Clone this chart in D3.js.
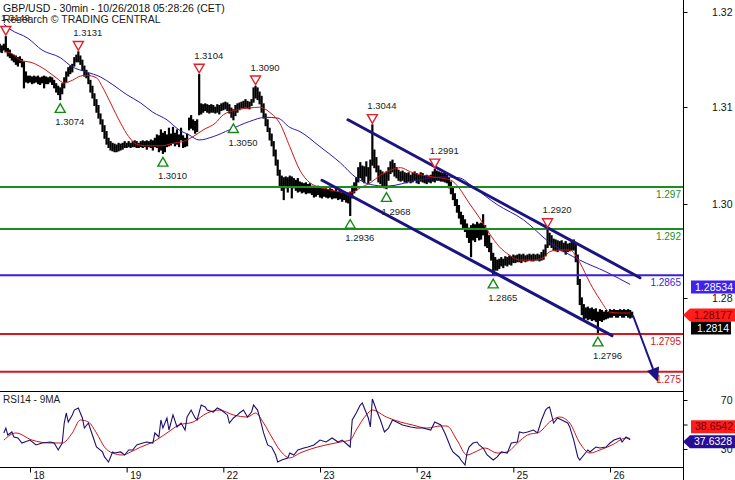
<!DOCTYPE html>
<html><head><meta charset="utf-8">
<script src="https://cdn.jsdelivr.net/npm/d3@7"></script>
<style>body{margin:0;background:#fff}svg{display:block}</style>
</head><body><svg id="c" width="735" height="480"></svg>
<script>
// ---------------- DATA ----------------
const titleText = "GBP/USD - 30min - 10/26/2018 05:28:26 (CET)";
const creditText = "Research \u00A9 TRADING CENTRAL";
const rsiTitle = "RSI14 - 9MA";

// 30-min bars, high / low (bar index 0 = 17 Oct evening)
const highs = [
1.3140,1.3138,1.3140,1.3149,1.3135,1.3133,1.3128,1.3127,1.3126,1.3124,
1.3125,1.3122,1.3119,1.3107,1.3102,1.3102,1.3101,1.3102,1.3101,1.3102,
1.3100,1.3101,1.3102,1.3101,1.3100,1.3101,1.3100,1.3097,1.3093,1.3090,
1.3088,1.3093,1.3100,1.3107,1.3112,1.3114,1.3116,1.3124,1.3127,1.3131,
1.3126,1.3121,1.3114,1.3109,1.3105,1.3097,1.3090,1.3081,1.3074,1.3067,
1.3057,1.3050,1.3043,1.3036,1.3028,1.3024,1.3022,1.3021,1.3020,1.3022,
1.3021,1.3022,1.3024,1.3022,1.3024,1.3022,1.3024,1.3025,1.3024,1.3022,
1.3024,1.3025,1.3024,1.3025,1.3024,1.3026,1.3025,1.3028,1.3032,1.3031,
1.3038,1.3034,1.3036,1.3032,1.3040,1.3033,1.3041,1.3034,1.3038,1.3032,
1.3040,1.3031,1.3028,1.3033,1.3052,1.3055,1.3050,1.3048,1.3050,1.3104,
1.3069,1.3068,1.3069,1.3068,1.3067,1.3068,1.3067,1.3065,1.3068,1.3067,
1.3069,1.3070,1.3071,1.3070,1.3068,1.3064,1.3062,1.3067,1.3069,1.3070,
1.3071,1.3072,1.3074,1.3072,1.3071,1.3074,1.3088,1.3090,1.3088,1.3083,
1.3078,1.3069,1.3057,1.3050,1.3040,1.3033,1.3024,1.3014,1.3002,1.2990,
1.2983,1.2981,1.2982,1.2981,1.2983,1.2982,1.2980,1.2978,1.2980,1.2976,
1.2975,1.2974,1.2975,1.2973,1.2974,1.2971,1.2970,1.2969,1.2971,1.2969,
1.2968,1.2970,1.2968,1.2967,1.2968,1.2967,1.2965,1.2967,1.2964,1.2965,
1.2963,1.2964,1.2963,1.2962,1.2964,1.2971,1.2975,1.2981,1.2993,1.2999,
1.2995,1.2994,1.3000,1.2993,1.3002,1.3044,1.3014,1.3005,1.2995,1.2990,
1.2988,1.2986,1.2988,1.2993,1.3000,1.3002,1.2998,1.2993,1.2990,1.2988,
1.2989,1.2987,1.2986,1.2987,1.2984,1.2986,1.2988,1.2986,1.2984,1.2987,
1.2986,1.2983,1.2984,1.2983,1.2984,1.2988,1.2991,1.2989,1.2988,1.2987,
1.2986,1.2986,1.2984,1.2981,1.2976,1.2969,1.2962,1.2955,1.2948,1.2940,
1.2936,1.2931,1.2926,1.2921,1.2924,1.2926,1.2925,1.2928,1.2926,1.2927,
1.2937,1.2924,1.2919,1.2912,1.2903,1.2891,1.2886,1.2883,1.2884,1.2886,
1.2884,1.2887,1.2886,1.2888,1.2887,1.2889,1.2888,1.2889,1.2890,1.2889,
1.2890,1.2888,1.2889,1.2890,1.2889,1.2890,1.2889,1.2890,1.2889,1.2892,
1.2895,1.2901,1.2920,1.2915,1.2912,1.2908,1.2907,1.2906,1.2905,1.2906,
1.2903,1.2905,1.2902,1.2903,1.2905,1.2907,1.2902,1.2889,1.2860,1.2838,
1.2830,1.2826,1.2827,1.2825,1.2826,1.2824,1.2825,1.2821,1.2824,1.2823,
1.2821,1.2823,1.2821,1.2824,1.2823,1.2824,1.2823,1.2823,1.2824,1.2823,
1.2824,1.2823,1.2824,1.2823,1.2821];
const lows = [
1.3131,1.3130,1.3133,1.3131,1.3126,1.3124,1.3121,1.3119,1.3116,1.3114,
1.3118,1.3113,1.3088,1.3095,1.3094,1.3095,1.3093,1.3094,1.3095,1.3093,
1.3092,1.3094,1.3088,1.3093,1.3093,1.3095,1.3092,1.3088,1.3083,1.3080,
1.3074,1.3081,1.3088,1.3095,1.3102,1.3105,1.3107,1.3114,1.3119,1.3119,
1.3116,1.3109,1.3102,1.3100,1.3093,1.3083,1.3076,1.3067,1.3059,1.3052,
1.3045,1.3036,1.3028,1.3021,1.3017,1.3014,1.3013,1.3012,1.3012,1.3013,
1.3014,1.3015,1.3017,1.3017,1.3018,1.3017,1.3018,1.3018,1.3017,1.3017,
1.3018,1.3017,1.3018,1.3015,1.3018,1.3017,1.3014,1.3018,1.3017,1.3012,
1.3014,1.3010,1.3012,1.3018,1.3019,1.3020,1.3022,1.3019,1.3021,1.3018,
1.3026,1.3017,1.3018,1.3019,1.3038,1.3040,1.3038,1.3034,1.3036,1.3056,
1.3057,1.3059,1.3061,1.3059,1.3058,1.3059,1.3059,1.3058,1.3059,1.3057,
1.3061,1.3062,1.3063,1.3061,1.3058,1.3053,1.3050,1.3055,1.3059,1.3062,
1.3064,1.3064,1.3065,1.3064,1.3063,1.3067,1.3071,1.3076,1.3074,1.3069,
1.3059,1.3052,1.3043,1.3036,1.3026,1.3019,1.3007,1.2996,1.2984,1.2971,
1.2966,1.2955,1.2969,1.2964,1.2971,1.2957,1.2969,1.2966,1.2964,1.2965,
1.2963,1.2964,1.2962,1.2963,1.2963,1.2961,1.2958,1.2959,1.2961,1.2958,
1.2957,1.2959,1.2958,1.2957,1.2958,1.2956,1.2957,1.2957,1.2955,1.2956,
1.2953,1.2955,1.2952,1.2951,1.2936,1.2957,1.2963,1.2966,1.2976,1.2981,
1.2978,1.2975,1.2983,1.2974,1.2978,1.2996,1.2993,1.2988,1.2976,1.2974,
1.2971,1.2969,1.2968,1.2978,1.2986,1.2988,1.2983,1.2981,1.2978,1.2977,
1.2978,1.2976,1.2975,1.2977,1.2975,1.2976,1.2978,1.2975,1.2974,1.2977,
1.2976,1.2975,1.2974,1.2976,1.2975,1.2977,1.2976,1.2978,1.2978,1.2977,
1.2977,1.2976,1.2975,1.2969,1.2962,1.2955,1.2948,1.2940,1.2933,1.2926,
1.2921,1.2917,1.2910,1.2904,1.2887,1.2907,1.2905,1.2910,1.2907,1.2908,
1.2913,1.2900,1.2898,1.2893,1.2883,1.2865,1.2871,1.2871,1.2873,1.2876,
1.2874,1.2877,1.2876,1.2878,1.2877,1.2880,1.2880,1.2881,1.2881,1.2880,
1.2882,1.2881,1.2882,1.2883,1.2882,1.2882,1.2883,1.2883,1.2882,1.2883,
1.2884,1.2888,1.2898,1.2901,1.2898,1.2895,1.2894,1.2893,1.2895,1.2894,
1.2893,1.2890,1.2893,1.2894,1.2895,1.2895,1.2881,1.2854,1.2830,1.2818,
1.2812,1.2814,1.2812,1.2813,1.2811,1.2812,1.2810,1.2796,1.2811,1.2810,
1.2812,1.2813,1.2814,1.2815,1.2815,1.2817,1.2815,1.2815,1.2817,1.2815,
1.2815,1.2817,1.2815,1.2814,1.2815];

// moving averages on price [barIndex, price]
const maFast = [[2,1.3131],[5,1.3130],[10,1.3121],[16,1.3118],[23,1.3109],[28,1.3100],[32,1.3094],[36,1.3097],[40,1.3102],[43,1.3103],[48,1.3100],[51,1.3089],[55,1.3070],[60,1.3046],[64,1.3030],[68,1.3021],[73,1.3019],[80,1.3019],[86,1.3022],[92,1.3025],[96,1.3030],[101,1.3038],[107,1.3046],[111,1.3056],[118,1.3062],[124,1.3064],[129,1.3065],[134,1.3059],[139,1.3046],[144,1.3018],[149,1.2990],[154,1.2975],[160,1.2969],[167,1.2965],[174,1.2963],[179,1.2969],[184,1.2975],[189,1.2984],[194,1.2990],[199,1.2993],[204,1.2988],[210,1.2984],[215,1.2982],[224,1.2978],[228,1.2969],[233,1.2951],[238,1.2934],[243,1.2915],[248,1.2899],[253,1.2889],[258,1.2883],[265,1.2883],[270,1.2886],[273,1.2893],[278,1.2895],[283,1.2895],[288,1.2880],[293,1.2856],[298,1.2836],[303,1.2821],[308,1.2820],[313,1.2820]];
const maSlow = [[2,1.3164],[5,1.3158],[14,1.3147],[21,1.3133],[30,1.3124],[36,1.3113],[43,1.3107],[50,1.3101],[56,1.3092],[63,1.3080],[70,1.3070],[76,1.3059],[83,1.3050],[89,1.3038],[94,1.3032],[99,1.3026],[106,1.3030],[114,1.3038],[124,1.3048],[132,1.3053],[138,1.3052],[144,1.3041],[149,1.3036],[159,1.3018],[169,1.2999],[177,1.2981],[184,1.2973],[192,1.2971],[207,1.2978],[220,1.2982],[228,1.2981],[235,1.2970],[247,1.2949],[260,1.2931],[273,1.2904],[288,1.2883],[301,1.2869],[313,1.2854]];

// RSI14 and its 9-period MA [barIndex, value]
const rsi = [[2,43.1],[3,47.1],[4,41.4],[6,43.9],[7,39.8],[9,39.0],[11,34.9],[15,37.3],[18,33.3],[21,34.9],[25,35.7],[27,34.9],[29,29.2],[31,34.9],[32,51.2],[33,59.4],[34,52.0],[36,57.8],[37,61.8],[39,63.5],[41,55.3],[42,47.1],[44,51.2],[46,41.4],[48,31.6],[51,27.6],[52,23.5],[54,19.4],[56,27.6],[57,26.7],[60,27.6],[62,25.1],[64,29.2],[66,29.2],[68,33.3],[71,34.9],[73,35.7],[76,34.9],[77,43.1],[79,39.8],[80,53.7],[81,47.1],[83,55.3],[84,45.5],[86,57.8],[88,48.0],[90,51.2],[92,45.5],[93,56.1],[95,61.8],[97,55.3],[98,53.7],[100,65.9],[102,64.3],[103,61.8],[106,60.2],[108,63.5],[110,61.8],[113,57.8],[114,51.2],[116,55.3],[118,57.8],[119,59.4],[121,61.8],[123,56.1],[125,60.2],[126,65.9],[128,61.8],[129,56.1],[131,43.1],[133,33.3],[135,31.6],[137,25.1],[138,19.4],[140,21.0],[143,22.7],[144,26.7],[146,25.1],[148,29.2],[151,30.8],[153,31.6],[156,33.3],[159,37.3],[162,35.7],[165,39.0],[168,35.7],[170,37.3],[174,31.6],[175,53.7],[177,59.4],[179,65.9],[180,67.6],[181,63.5],[183,55.3],[184,48.0],[185,70.8],[187,61.8],[189,53.7],[191,43.9],[193,47.1],[195,53.7],[198,51.2],[200,49.6],[204,48.0],[207,47.1],[210,47.1],[214,45.5],[216,52.0],[219,49.6],[221,43.1],[224,30.8],[225,27.6],[228,23.5],[229,21.0],[231,16.9],[232,26.7],[233,31.6],[235,34.9],[237,35.7],[238,33.3],[240,30.8],[242,25.1],[245,21.0],[247,23.5],[249,27.6],[252,26.7],[254,34.9],[257,35.7],[258,43.9],[260,43.1],[262,43.9],[265,45.5],[267,43.1],[269,53.7],[271,61.8],[272,63.5],[273,64.3],[275,51.2],[277,55.3],[279,53.7],[282,51.2],[283,48.0],[285,37.3],[287,23.5],[288,21.0],[290,25.1],[292,29.2],[293,27.6],[296,31.6],[298,30.8],[301,31.6],[303,34.9],[305,37.3],[308,39.0],[309,35.7],[311,39.8],[313,37.6]];
const rsiMA = [[2,37.3],[8,43.1],[16,37.3],[25,34.9],[31,34.9],[36,43.1],[40,53.7],[44,52.0],[48,43.1],[52,31.6],[56,26.7],[61,25.1],[65,27.6],[70,31.6],[76,35.7],[83,43.1],[89,49.6],[96,52.0],[103,59.4],[109,61.8],[116,57.8],[123,56.1],[127,59.4],[131,51.2],[135,39.8],[139,29.2],[144,22.7],[149,26.7],[156,30.8],[162,33.3],[169,35.7],[174,37.3],[177,45.5],[182,57.8],[185,61.8],[192,56.1],[199,52.0],[205,49.6],[212,47.1],[219,48.8],[222,48.8],[227,37.3],[232,25.1],[236,27.6],[241,30.8],[247,26.7],[252,27.6],[257,34.9],[262,41.4],[268,43.9],[273,52.0],[278,56.1],[283,51.2],[288,34.9],[293,26.7],[298,29.2],[304,33.3],[311,39.0],[313,38.7]];

// pivots: [barIndex, price, "H"|"L"]
const pivots = [[3,1.3149,"H"],[39,1.3131,"H"],[30,1.3074,"L"],[99,1.3104,"H"],[81,1.3010,"L"],[127,1.3090,"H"],[116,1.3050,"L"],[185,1.3044,"H"],[192,1.2968,"L"],[174,1.2936,"L"],[216,1.2991,"H"],[245,1.2865,"L"],[272,1.2920,"H"],[297,1.2796,"L"]];
const pivotLabels = ["1.3149","1.3131","1.3074","1.3104","1.3010","1.3090","1.3050","1.3044","1.2968","1.2936","1.2991","1.2865","1.2920","1.2796"];

// key levels
const levels = [1.297, 1.292, 1.2865, 1.2795, 1.275];
const levelLabels = ["1.297","1.292","1.2865","1.2795","1.275"];
const levelKind = ["resistance","resistance","pivot","support","support"];

// trend channel and forecast arrow [barIndex, price]
const channelUpper = [[172.9,1.3050],[317.9,1.2862]];
const channelLower = [[160.0,1.2978],[304.0,1.2793]];
const forecast = [[314.4,1.2817],[326.8,1.2738]];

// axes
const dayTicks = [15,63,111,159,207,255,303];
const dayLabels = ["18","19","22","23","24","25","26"];
const priceTickValues = [1.28,1.30,1.31,1.32];
const priceTickLabels = ["1.28","1.30","1.31","1.32"];
const rsiTicks = [30,50,70];
const rsiTickLabels = ["30","","70"];

// last-value tags
const priceTags = [1.28534, 1.28177, 1.2814];
const rsiTags = [38.6542, 37.6328];

// ---------------- DRAW ----------------
const FONT = '"Liberation Sans", Arial, sans-serif';
const svg = d3.select("#c").style("font-family", FONT);
const AX = 683, MAIN_B = 391, RSI_B = 467;
const COL = {resistance:"#1e8c1e", pivot:"#3a1fd6", support:"#d9141c"};
const NAVY = "#1b1480";

const x = d3.scaleLinear().domain([15,303]).range([30,610]);
const y = d3.scaleLinear().domain([1.297,1.275]).range([187,371.8]);
const yAxisScale = d3.scaleLinear().domain(priceTickValues).range([298,204,107,12]);
const r = d3.scaleLinear().domain([30,70]).range([449,400]);

svg.append("rect").attr("width",735).attr("height",480).attr("fill","#fff");
const defs = svg.append("defs");
defs.append("clipPath").attr("id","cm").append("rect").attr("x",0).attr("y",0).attr("width",AX).attr("height",MAIN_B);
defs.append("clipPath").attr("id","cr").append("rect").attr("x",0).attr("y",MAIN_B).attr("width",AX).attr("height",RSI_B-MAIN_B);

const main = svg.append("g").attr("clip-path","url(#cm)");

// bars
const bars = highs.map((h,i)=>({i, h, l: lows[i]}));
main.append("g").selectAll("line").data(bars).join("line")
  .attr("x1",d=>x(d.i)).attr("x2",d=>x(d.i))
  .attr("y1",d=>y(d.h)-0.5).attr("y2",d=>y(d.l)+0.5)
  .attr("stroke","#000").attr("stroke-width",2.2);

// moving averages
const maLine = d3.line().x(d=>x(d[0])).y(d=>y(d[1])).curve(d3.curveMonotoneX);
main.append("path").attr("d",maLine(maSlow)).attr("fill","none").attr("stroke","#2a1aa8").attr("stroke-width",1);
main.append("path").attr("d",maLine(maFast)).attr("fill","none").attr("stroke","#d01414").attr("stroke-width",1);

// levels
levels.forEach((v,k)=>{
  main.append("line").attr("x1",0).attr("x2",AX).attr("y1",y(v)).attr("y2",y(v))
    .attr("stroke",COL[levelKind[k]]).attr("stroke-width",2);
  main.append("text").attr("x",AX-2).attr("y",y(v)+11).attr("text-anchor","end")
    .attr("font-size",10).attr("fill",COL[levelKind[k]]).text(levelLabels[k]);
});

// channel
[channelUpper, channelLower].forEach(c=>{
  main.append("line").attr("x1",x(c[0][0])).attr("y1",y(c[0][1]))
    .attr("x2",x(c[1][0])).attr("y2",y(c[1][1]))
    .attr("stroke",NAVY).attr("stroke-width",3).attr("stroke-linecap","round");
});

// pivots
const tri = (cx,cy,down)=> down
  ? `M${cx-5},${cy-4.2}L${cx+5},${cy-4.2}L${cx},${cy+4.5}Z`
  : `M${cx-5},${cy+4.2}L${cx+5},${cy+4.2}L${cx},${cy-4.5}Z`;
pivots.forEach((p,k)=>{
  const cx = x(p[0]), py = y(p[1]), hi = p[2]==="H";
  const ty = hi ? py-6 : py+8.5;
  const ly = hi ? py-19 : py+22.5;
  main.append("path").attr("d",tri(cx,ty,hi)).attr("fill","#fff")
    .attr("stroke",hi?"#e0202a":"#138a13").attr("stroke-width",1.4);
  main.append("text").attr("x",cx-5).attr("y",ly).attr("dy","0.35em")
    .attr("font-size",9.5).attr("fill","#222").text(pivotLabels[k]);
});

// forecast arrow
{
  const [a,b] = forecast;
  const x1=x(a[0]), y1=y(a[1]), x2=x(b[0]), y2=y(b[1]);
  const ang = Math.atan2(y2-y1, x2-x1), L=14, Wd=6.5;
  const bx = x2 - L*Math.cos(ang), by = y2 - L*Math.sin(ang);
  svg.append("line").attr("x1",x1).attr("y1",y1).attr("x2",bx).attr("y2",by)
    .attr("stroke",NAVY).attr("stroke-width",2);
  svg.append("path").attr("d",`M${x2},${y2}L${bx-Wd*Math.sin(ang)},${by+Wd*Math.cos(ang)}L${bx+Wd*Math.sin(ang)},${by-Wd*Math.cos(ang)}Z`)
    .attr("fill",NAVY);
}

// title
svg.append("text").attr("x",3).attr("y",12).attr("font-size",10.5).attr("fill","#111").text(titleText);
svg.append("text").attr("x",3).attr("y",23).attr("font-size",10.5).attr("fill","#222").text(creditText);

// RSI panel
const rp = svg.append("g").attr("clip-path","url(#cr)");
rp.append("path").attr("d",d3.line().x(d=>x(d[0])).y(d=>r(d[1])).curve(d3.curveMonotoneX)(rsiMA)).attr("fill","none").attr("stroke","#d01414").attr("stroke-width",1);
rp.append("path").attr("d",d3.line().x(d=>x(d[0])).y(d=>r(d[1]))(rsi)).attr("fill","none").attr("stroke","#1d1070").attr("stroke-width",1.1);
svg.append("text").attr("x",3).attr("y",403).attr("font-size",10).attr("fill","#222").text(rsiTitle);

// frame lines
svg.append("line").attr("x1",0).attr("x2",AX).attr("y1",MAIN_B+0.5).attr("y2",MAIN_B+0.5).attr("stroke","#000");
svg.append("line").attr("x1",0).attr("x2",AX).attr("y1",RSI_B+0.5).attr("y2",RSI_B+0.5).attr("stroke","#000");
svg.append("line").attr("x1",AX+0.5).attr("x2",AX+0.5).attr("y1",0).attr("y2",480).attr("stroke","#000");

// axes
function styleAxis(g){ g.select(".domain").remove(); g.selectAll("text").attr("font-family",FONT).attr("fill","#111"); g.selectAll("line").attr("stroke","#000"); }
const ga = svg.append("g").attr("transform",`translate(${AX+0.5},0)`)
  .call(d3.axisRight(yAxisScale).tickValues(priceTickValues).tickFormat((d,i)=>priceTickLabels[i]).tickSize(4));
styleAxis(ga); ga.selectAll("text").attr("x",49).attr("text-anchor","end").attr("font-size",10.5);
const gr = svg.append("g").attr("transform",`translate(${AX+0.5},0)`)
  .call(d3.axisRight(r).tickValues(rsiTicks).tickFormat((d,i)=>rsiTickLabels[i]).tickSize(4));
styleAxis(gr); gr.selectAll("text").attr("x",49).attr("text-anchor","end").attr("font-size",10.5);
const gx = svg.append("g").attr("transform",`translate(0,${RSI_B+0.5})`)
  .call(d3.axisBottom(x).tickValues(dayTicks).tickFormat((d,i)=>dayLabels[i]).tickSize(5));
styleAxis(gx); gx.selectAll("text").attr("x",3).attr("y",11).attr("dy",0).attr("text-anchor","start").attr("font-size",10);

// tags
function tag(yc, txt, fill, color, pointed, x0, x1){
  const h=13, t=yc-h/2;
  const d = pointed
    ? `M${AX},${yc}L${AX+7},${t}L735,${t}L735,${t+h}L${AX+7},${t+h}Z`
    : `M${x0},${t}L${x1},${t}L${x1},${t+h}L${x0},${t+h}Z`;
  svg.append("path").attr("d",d).attr("fill",fill);
  svg.append("text").attr("x",pointed?732:(x1-2)).attr("y",yc).attr("dy","0.36em").attr("text-anchor","end")
    .attr("font-size",10.5).attr("fill",color).text(txt);
}
const yBlue = y(priceTags[0])+2, yRed = y(priceTags[1]);
tag(yBlue, priceTags[0].toFixed(5), "#3f22ee", "#fff", false, 691, 735);
tag(yRed, priceTags[1].toFixed(5), "#ff1c1c", "#6a0000", true);
tag(yRed+13, priceTags[2].toFixed(4), "#000", "#fff", false, 691, 731);
const yR2 = r(rsiTags[1])+2;
tag(yR2-15, rsiTags[0].toFixed(4), "#ff1c1c", "#6a0000", false, 691, 735);
tag(yR2, rsiTags[1].toFixed(4), "#2a0c96", "#fff", true);
</script></body></html>
